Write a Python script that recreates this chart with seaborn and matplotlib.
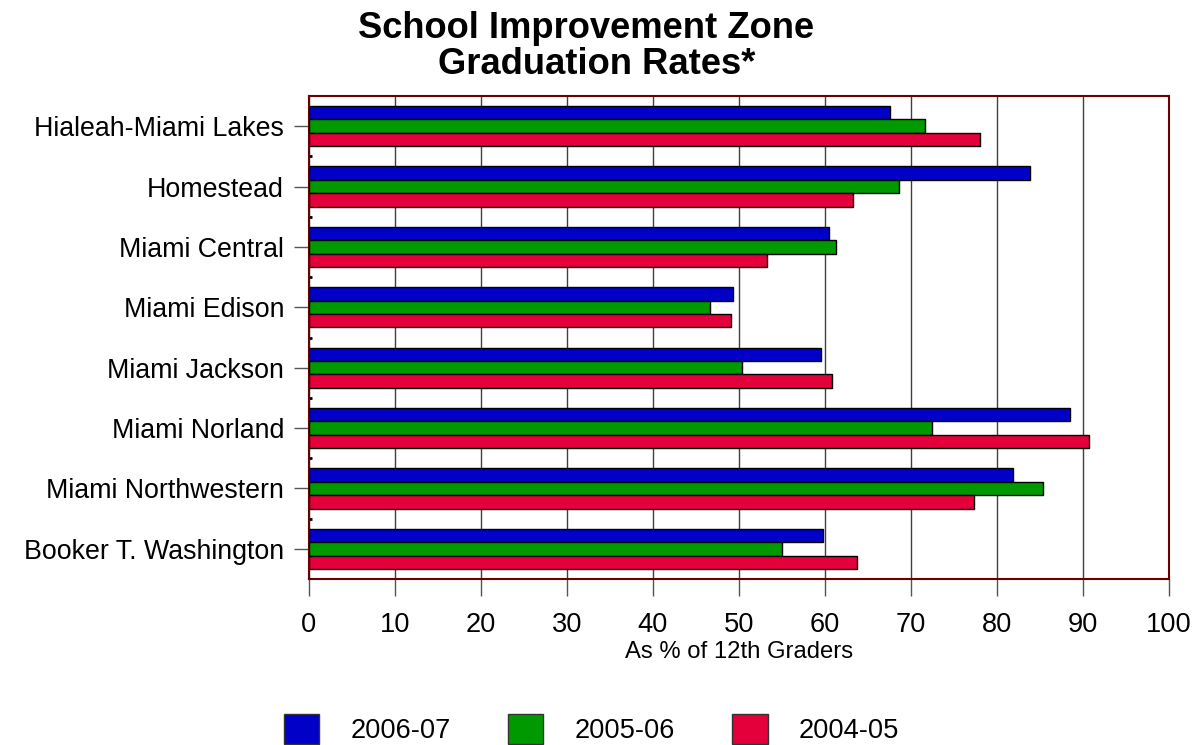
import matplotlib
matplotlib.use("Agg")
import matplotlib.pyplot as plt
import seaborn as sns
import pandas as pd
from matplotlib.patches import Patch

schools = ["Hialeah-Miami Lakes", "Homestead", "Miami Central", "Miami Edison",
           "Miami Jackson", "Miami Norland", "Miami Northwestern", "Booker T. Washington"]
years = ["2006-07", "2005-06", "2004-05"]
rate_2006_07 = [67.5, 83.8, 60.5, 49.3, 59.5, 88.5, 81.9, 59.8]
rate_2005_06 = [71.6, 68.6, 61.3, 46.6, 50.4, 72.4, 85.3, 55.0]
rate_2004_05 = [78.0, 63.3, 53.2, 49.1, 60.8, 90.7, 77.3, 63.7]
x_ticks = [0, 10, 20, 30, 40, 50, 60, 70, 80, 90, 100]

colors = ["#0000C8", "#009900", "#E4003A"]

rows = []
for yr, vals in zip(years, [rate_2006_07, rate_2005_06, rate_2004_05]):
    for s, v in zip(schools, vals):
        rows.append({"School": s, "Year": yr, "Rate": v})
df = pd.DataFrame(rows)

sns.set_theme(style="white")
plt.rcParams["font.family"] = ["Liberation Sans", "DejaVu Sans"]
plt.rcParams["text.color"] = "black"
plt.rcParams["axes.labelcolor"] = "black"
plt.rcParams["xtick.labelcolor"] = "black"
plt.rcParams["ytick.labelcolor"] = "black"

fig = plt.figure(figsize=(11.99, 7.45), dpi=100)
ax = fig.add_axes([309 / 1199, 1 - 579 / 745, 860 / 1199, 483 / 745])

sns.barplot(data=df, y="School", x="Rate", hue="Year", order=schools,
            hue_order=years, palette=colors, orient="h", width=0.667,
            saturation=1, edgecolor="black", linewidth=1.0, ax=ax,
            legend=False, zorder=3)

ax.set_xlim(0, 100)
ax.set_ylim(len(schools) - 0.5, -0.5)
ax.set_xticks(x_ticks)
ax.set_xticklabels([str(t) for t in x_ticks])
ax.xaxis.grid(True, color="#404040", linewidth=1.0, zorder=0)
ax.yaxis.grid(False)
ax.set_axisbelow(True)

for sp in ax.spines.values():
    sp.set_visible(True)
    sp.set_color("#6B0000")
    sp.set_linewidth(1.5)

ax.tick_params(axis="y", which="major", left=True, length=11, width=1,
               color="#555555", pad=7, labelsize=19.3, direction="out")
ax.tick_params(axis="x", which="major", bottom=True, length=12, width=1,
               color="#555555", pad=12, labelsize=19.6, direction="out")
ax.set_yticks([i + 0.5 for i in range(len(schools) - 1)], minor=True)
ax.tick_params(axis="y", which="minor", left=True, length=2, width=2,
               color="black", direction="in")

ax.set_ylabel("")
ax.set_xlabel("As % of 12th Graders", fontsize=17.2, labelpad=2)

fig.text(586.5 / 1199, 1 - 37.5 / 745, "School Improvement Zone",
         ha="center", va="baseline", fontsize=26.2, fontweight="bold")
fig.text(596.5 / 1199, 1 - 74.0 / 745, "Graduation Rates*",
         ha="center", va="baseline", fontsize=26.2, fontweight="bold")

handles = [Patch(facecolor=c, edgecolor="#333333", linewidth=1) for c in colors]
fig.legend(handles, years, loc="center", bbox_to_anchor=(591.5 / 1199, 1 - 729 / 745),
           ncol=3, frameon=False, fontsize=19.6, handlelength=1.3, handleheight=1.3,
           handletextpad=1.15, columnspacing=2.1, borderpad=0, borderaxespad=0)

fig.savefig("out.png", dpi=100)
